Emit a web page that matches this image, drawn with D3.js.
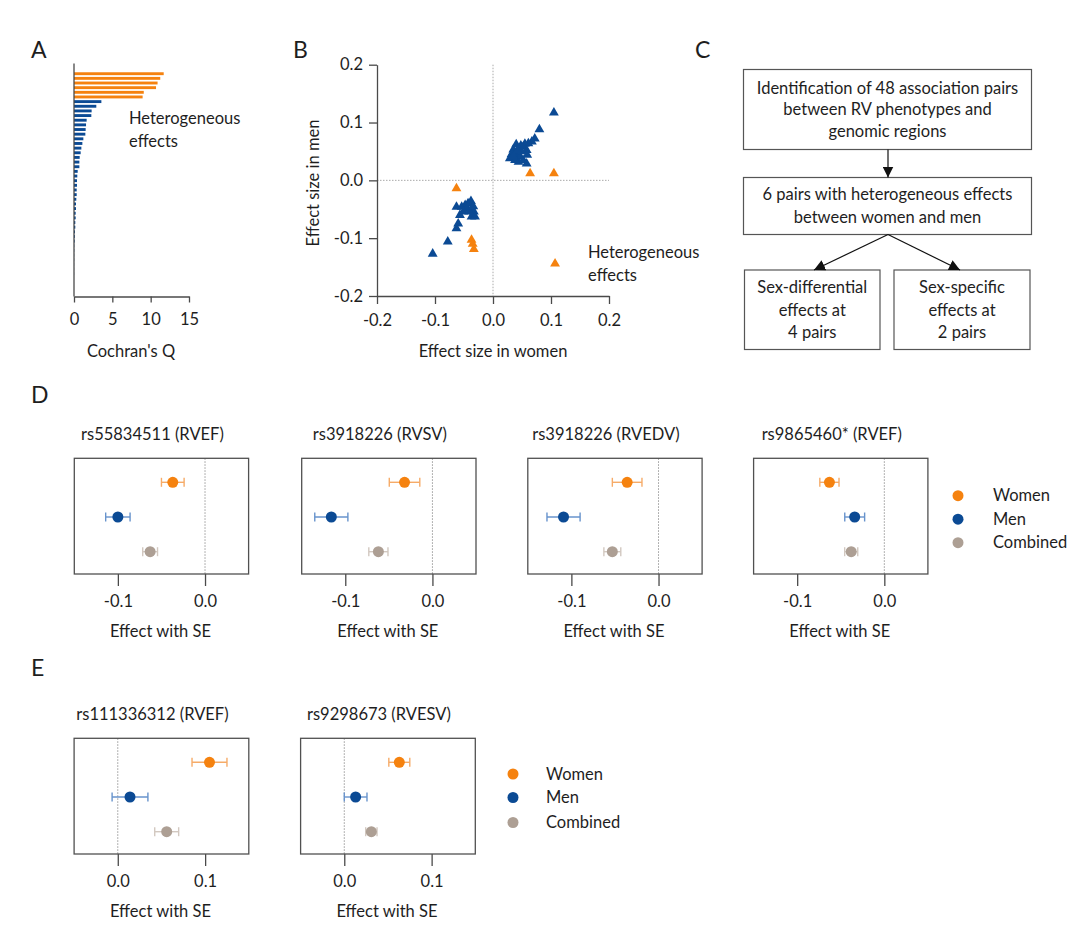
<!DOCTYPE html>
<html><head><meta charset="utf-8">
<script src="https://cdn.jsdelivr.net/npm/d3@7"></script>
<style>
body{margin:0;background:#fff}
text{font-family:Lato, "Open Sans", sans-serif; fill:#1e1e1e}
</style>
</head><body>
<svg id="c" width="1080" height="933"></svg>
<script>
// ---------------- DATA ----------------
// Panel A: Cochran's Q per association pair (sorted)
const qHeterogeneous = [11.7, 11.25, 10.9, 10.7, 9.1, 8.95];
const qOther = [3.57, 2.91, 2.30, 2.26, 1.65, 1.57, 1.52, 1.48, 1.22, 1.09, 0.96, 0.87,
  0.74, 0.70, 0.70, 0.48, 0.43, 0.39, 0.39, 0.35, 0.35, 0.30, 0.26, 0.26, 0.22, 0.22,
  0.17, 0.17, 0.13, 0.11, 0.09, 0.03, 0.03, 0.02, 0.02, 0.01, 0.01, 0.01, 0, 0, 0, 0];
const qTicks = [0, 5, 10, 15];

// Panel B: effect sizes women (x) vs men (y)
const womenHet = [0.064, 0.105, -0.063, -0.037, -0.035, -0.033, 0.107];
const menHet   = [0.012, 0.012, -0.014, -0.103, -0.110, -0.119, -0.144];
const womenOther = [0.105, 0.080, 0.072, 0.067, 0.061, 0.055, 0.052, 0.058, 0.048, 0.040, 0.035,
  0.032, 0.029, 0.041, 0.047, 0.052, 0.058, 0.044, 0.038, 0.049, 0.059, 0.035, 0.042,
  -0.104, -0.078, -0.063, -0.060, -0.057, -0.063, -0.054, -0.048, -0.043, -0.038, -0.045,
  -0.037, -0.033, -0.037, -0.031, -0.051, -0.041, -0.034];
const menOther = [0.117, 0.088, 0.072, 0.067, 0.064, 0.063, 0.058, 0.052, 0.060, 0.062, 0.053,
  0.045, 0.038, 0.045, 0.041, 0.035, 0.029, 0.032, 0.035, 0.050, 0.044, 0.042, 0.052,
  -0.127, -0.106, -0.083, -0.075, -0.060, -0.046, -0.046, -0.043, -0.040, -0.036, -0.049,
  -0.049, -0.054, -0.063, -0.063, -0.054, -0.054, -0.045];
const effectTicks = [-0.2, -0.1, 0.0, 0.1, 0.2];

// Panel C: flowchart texts
const flowTop = ["Identification of 48 association pairs", "between RV phenotypes and", "genomic regions"];
const flowMid = ["6 pairs with heterogeneous effects", "between women and men"];
const flowLeft = ["Sex-differential", "effects at", "4 pairs"];
const flowRight = ["Sex-specific", "effects at", "2 pairs"];

// Panels D and E: forest plots
const forestTitles = ["rs55834511 (RVEF)", "rs3918226 (RVSV)", "rs3918226 (RVEDV)", "rs9865460* (RVEF)",
  "rs111336312 (RVEF)", "rs9298673 (RVESV)"];
const womenBeta = [-0.037, -0.032, -0.036, -0.063, 0.105, 0.063];
const womenSE   = [0.013, 0.0175, 0.017, 0.011, 0.020, 0.012];
const menBeta   = [-0.100, -0.116, -0.109, -0.034, 0.014, 0.013];
const menSE     = [0.014, 0.019, 0.019, 0.0114, 0.0205, 0.013];
const combBeta  = [-0.063, -0.062, -0.053, -0.038, 0.056, 0.031];
const combSE    = [0.0085, 0.011, 0.0097, 0.0075, 0.0137, 0.0065];
const groups = ["Women", "Men", "Combined"];
const forestDomainD = [-0.15, 0.05], forestTicksD = [-0.1, 0.0];
const forestDomainE = [-0.05, 0.15], forestTicksE = [0.0, 0.1];

// ---------------- STYLE ----------------
const ORANGE = "#f5820f", BLUE = "#0b4a94", GREY = "#ad9f94";
const ORANGE_L = "#f6ab68", BLUE_L = "#6793cc", GREY_L = "#d2c8c0";
const AXIS = "#4a4a4a";
const FS = 16.5;

const svg = d3.select("#c");

function panelLetter(t, x, y) {
  svg.append("text").attr("x", x).attr("y", y).attr("font-size", 23).text(t);
}
function styleAxis(g) {
  g.selectAll("path.domain").attr("stroke", AXIS).attr("stroke-width", 1.3);
  g.selectAll(".tick line").attr("stroke", AXIS).attr("stroke-width", 1.3);
  g.selectAll(".tick text").attr("font-size", FS).attr("fill", "#1e1e1e")
    .attr("font-family", "Lato, 'Open Sans', sans-serif");
}
const fmt1 = d => d.toFixed(1);

// ---------------- PANEL A ----------------
panelLetter("A", 31, 58);
const qAll = qHeterogeneous.map(v => ({v, het: true})).concat(qOther.map(v => ({v, het: false})));
const xA = d3.scaleLinear().domain([0, 15]).range([74, 189]);
const yA = d3.scaleBand().domain(d3.range(qAll.length)).range([70.5, 295.5]).padding(0.38);
const gA = svg.append("g");
gA.selectAll("rect").data(qAll).join("rect")
  .attr("x", xA(0)).attr("y", (d, i) => yA(i))
  .attr("width", d => xA(d.v) - xA(0)).attr("height", yA.bandwidth())
  .attr("fill", d => d.het ? ORANGE : BLUE);
gA.append("line").attr("x1", 74).attr("x2", 74).attr("y1", 63.5).attr("y2", 296.5)
  .attr("stroke", AXIS).attr("stroke-width", 1.3);
const axA = gA.append("g").attr("transform", "translate(0,296.5)")
  .call(d3.axisBottom(xA).tickValues(qTicks).tickSize(6).tickPadding(11).tickSizeOuter(0));
styleAxis(axA);
gA.append("text").attr("x", 129).attr("y", 124).attr("font-size", FS).text("Heterogeneous");
gA.append("text").attr("x", 129).attr("y", 147).attr("font-size", FS).text("effects");
gA.append("text").attr("x", 131).attr("y", 357).attr("text-anchor", "middle").attr("font-size", FS).text("Cochran's Q");

// ---------------- PANEL B ----------------
panelLetter("B", 293, 58);
const xB = d3.scaleLinear().domain([-0.2, 0.2]).range([377, 609]);
const yB = d3.scaleLinear().domain([-0.2, 0.2]).range([296, 64.7]);
const gB = svg.append("g");
gB.append("line").attr("x1", xB(-0.2)).attr("x2", xB(0.2)).attr("y1", yB(0)).attr("y2", yB(0))
  .attr("stroke", "#aaa").attr("stroke-width", 1).attr("stroke-dasharray", "1.5,1.5");
gB.append("line").attr("x1", xB(0)).attr("x2", xB(0)).attr("y1", yB(0.2)).attr("y2", yB(-0.2))
  .attr("stroke", "#aaa").attr("stroke-width", 1).attr("stroke-dasharray", "1.5,1.5");
const axBx = gB.append("g").attr("transform", "translate(0,296)")
  .call(d3.axisBottom(xB).tickValues(effectTicks).tickFormat(fmt1).tickSize(8).tickPadding(10).tickSizeOuter(0));
styleAxis(axBx);
const axBy = gB.append("g").attr("transform", "translate(377,0)")
  .call(d3.axisLeft(yB).tickValues(effectTicks).tickFormat(fmt1).tickSize(8).tickPadding(6).tickSizeOuter(0));
styleAxis(axBy);
const tri = d3.symbol(d3.symbolTriangle, 42);
const ptsOther = womenOther.map((w, i) => ({w, m: menOther[i]}));
const ptsHet = womenHet.map((w, i) => ({w, m: menHet[i]}));
gB.selectAll("path.pb").data(ptsOther).join("path").attr("class", "pb")
  .attr("d", tri).attr("transform", d => `translate(${xB(d.w)},${yB(d.m)})`).attr("fill", BLUE);
gB.selectAll("path.po").data(ptsHet).join("path").attr("class", "po")
  .attr("d", tri).attr("transform", d => `translate(${xB(d.w)},${yB(d.m)})`).attr("fill", ORANGE);
gB.append("text").attr("x", 588).attr("y", 258).attr("font-size", FS).text("Heterogeneous");
gB.append("text").attr("x", 588).attr("y", 281).attr("font-size", FS).text("effects");
gB.append("text").attr("x", 493).attr("y", 357).attr("text-anchor", "middle").attr("font-size", FS).text("Effect size in women");
gB.append("text").attr("transform", "translate(319,183) rotate(-90)").attr("text-anchor", "middle")
  .attr("font-size", FS).text("Effect size in men");

// ---------------- PANEL C ----------------
panelLetter("C", 695, 58);
const gC = svg.append("g");
function box(x, y, w, h, lines, lineGap) {
  gC.append("rect").attr("x", x).attr("y", y).attr("width", w).attr("height", h)
    .attr("fill", "none").attr("stroke", "#555").attr("stroke-width", 1.2);
  const cy = y + h / 2, n = lines.length;
  lines.forEach((t, i) => {
    gC.append("text").attr("x", x + w / 2).attr("y", cy + (i - (n - 1) / 2) * lineGap)
      .attr("dy", "0.35em").attr("text-anchor", "middle").attr("font-size", FS).text(t);
  });
}
box(743.5, 69.5, 288, 80, flowTop, 21.7);
box(743.5, 177.5, 288, 57, flowMid, 22.7);
box(744.5, 270, 135.5, 79.5, flowLeft, 22.5);
box(894, 270, 136, 79.5, flowRight, 22.5);
svg.append("defs").append("marker").attr("id", "ah").attr("viewBox", "0 0 10 10")
  .attr("refX", 10).attr("refY", 5).attr("markerWidth", 11).attr("markerHeight", 11)
  .attr("markerUnits", "userSpaceOnUse").attr("orient", "auto")
  .append("path").attr("d", "M0,0 L10,5 L0,10 Z").attr("fill", "#111");
function arrow(x1, y1, x2, y2) {
  gC.append("line").attr("x1", x1).attr("y1", y1).attr("x2", x2).attr("y2", y2)
    .attr("stroke", "#111").attr("stroke-width", 1.2).attr("marker-end", "url(#ah)");
}
arrow(888, 149.5, 888, 177.5);
arrow(888, 234.5, 814, 270);
arrow(888, 234.5, 960, 270);

// ---------------- PANELS D & E ----------------
panelLetter("D", 31, 403);
panelLetter("E", 31, 676);
const colors = {Women: ORANGE, Men: BLUE, Combined: GREY};
const lightColors = {Women: ORANGE_L, Men: BLUE_L, Combined: GREY_L};

function forest(i, x0, y0, w, h, domain, ticks) {
  const g = svg.append("g");
  const x = d3.scaleLinear().domain(domain).range([x0, x0 + w]);
  const y = d3.scalePoint().domain(groups).range([y0 + 24, y0 + 93.4]);
  const rows = [
    {grp: "Women", b: womenBeta[i], se: womenSE[i]},
    {grp: "Men", b: menBeta[i], se: menSE[i]},
    {grp: "Combined", b: combBeta[i], se: combSE[i]}
  ];
  g.append("text").attr("x", x0 + w / 2 - 9).attr("y", y0 - 18).attr("text-anchor", "middle")
    .attr("font-size", FS).text(forestTitles[i]);
  g.append("line").attr("x1", x(0)).attr("x2", x(0)).attr("y1", y0).attr("y2", y0 + h)
    .attr("stroke", "#999").attr("stroke-width", 1).attr("stroke-dasharray", "1.5,1.5");
  const ax = g.append("g").attr("transform", `translate(0,${y0 + h})`)
    .call(d3.axisBottom(x).tickValues(ticks).tickFormat(fmt1).tickSize(12).tickPadding(9).tickSizeOuter(0));
  ax.select("path.domain").remove();
  styleAxis(ax);
  g.append("rect").attr("x", x0).attr("y", y0).attr("width", w).attr("height", h)
    .attr("fill", "none").attr("stroke", "#505050").attr("stroke-width", 1.3);
  const eb = g.selectAll("g.eb").data(rows).join("g").attr("class", "eb")
    .attr("stroke", d => lightColors[d.grp]).attr("stroke-width", 1.4);
  eb.append("line").attr("x1", d => x(d.b - d.se)).attr("x2", d => x(d.b + d.se))
    .attr("y1", d => y(d.grp)).attr("y2", d => y(d.grp));
  eb.append("line").attr("x1", d => x(d.b - d.se)).attr("x2", d => x(d.b - d.se))
    .attr("y1", d => y(d.grp) - 4.5).attr("y2", d => y(d.grp) + 4.5);
  eb.append("line").attr("x1", d => x(d.b + d.se)).attr("x2", d => x(d.b + d.se))
    .attr("y1", d => y(d.grp) - 4.5).attr("y2", d => y(d.grp) + 4.5);
  g.selectAll("circle").data(rows).join("circle")
    .attr("cx", d => x(d.b)).attr("cy", d => y(d.grp)).attr("r", 5.5)
    .attr("fill", d => colors[d.grp]);
  g.append("text").attr("x", x0 + w / 2 - 1).attr("y", y0 + h + 63).attr("text-anchor", "middle")
    .attr("font-size", FS).text("Effect with SE");
}
const dX = [74.3, 301.7, 527.8, 753.6];
dX.forEach((x0, i) => forest(i, x0, 458.3, 174.3, 115.7, forestDomainD, forestTicksD));
const eX = [74.1, 300.6];
eX.forEach((x0, j) => forest(4 + j, x0, 738.3, 174.7, 115.7, forestDomainE, forestTicksE));

function legend(xd, xt, ys) {
  groups.forEach((grp, k) => {
    svg.append("circle").attr("cx", xd).attr("cy", ys[k]).attr("r", 5.5).attr("fill", colors[grp]);
    svg.append("text").attr("x", xt).attr("y", ys[k]).attr("dy", "0.35em").attr("font-size", FS).text(grp);
  });
}
legend(958, 993, [495.7, 519.2, 542.7]);
legend(513, 546, [774, 797.5, 822.5]);
</script>
</body></html>
